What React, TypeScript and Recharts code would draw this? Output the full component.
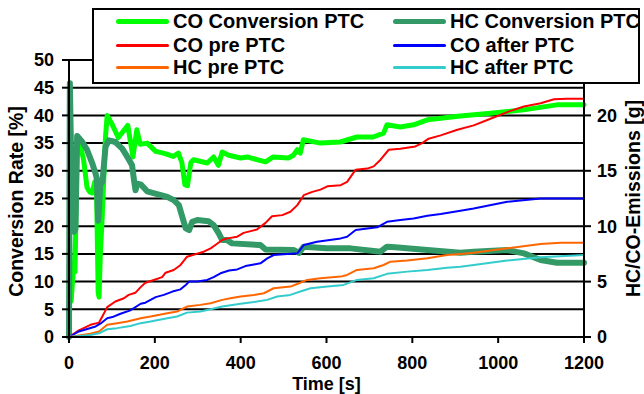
import React from 'react';
import { LineChart, Line, XAxis, YAxis, CartesianGrid, Legend } from 'recharts';

type Pt = [number, number];

// time [s] vs. conversion rate [%]
const coConversion: Pt[] = [
  [1, 19], [5, 6.5], [10, 12], [14, 11.8], [19, 35.5], [28, 34], [34, 32], [42, 27], [48, 26.2],
  [54, 26], [60, 28], [64, 27.5], [68, 8], [70, 7.2], [73, 15], [77, 21], [85, 36], [89, 40],
  [101, 38.3], [115, 36], [137, 38.2], [149, 32.5], [158, 37.4], [166, 34.8], [182, 35],
  [202, 33.5], [220, 33.2], [243, 32.6], [255, 33.2], [263, 31.5], [270, 27.5], [276, 27.3],
  [284, 31.5], [290, 32], [322, 31.4], [337, 32.5], [348, 31], [357, 33.4], [372, 32.8],
  [400, 32.3], [415, 32.5], [458, 31.6], [476, 32.5], [511, 32.3], [523, 32.8], [532, 33.8],
  [539, 33.2], [546, 35.6], [586, 35], [632, 35.2], [671, 36.1], [709, 36.1], [733, 36.8],
  [741, 38.3], [772, 37.9], [803, 38.3], [835, 39.2], [866, 39.5], [912, 39.9], [982, 40.4],
  [1059, 41], [1137, 41.9], [1200, 41.9],
];

const hcConversion: Pt[] = [
  [0, 0], [2, 45.8], [7, 23], [12, 19], [15, 19.5], [19, 36.3], [31, 35.2], [42, 33.8],
  [54, 31.4], [62, 29.5], [65, 28.5], [68, 21], [73, 27.5], [78, 28], [85, 34.3], [93, 35.5],
  [108, 35.2], [124, 34], [136, 32.5], [147, 31], [152, 28], [155, 26.5], [159, 27.7],
  [168, 27.5], [182, 26.3], [229, 25.3], [244, 24.7], [256, 23.8], [264, 21.7], [272, 19.6],
  [280, 19.3], [287, 20.8], [299, 21.1], [325, 20.9], [337, 20.2], [349, 18.7], [357, 17.5],
  [368, 17.5], [380, 16.9], [446, 16.6], [458, 15.8], [524, 15.7], [536, 15.2], [547, 16.3],
  [600, 16], [656, 16], [726, 15.4], [741, 16.3], [760, 16.2], [835, 15.7], [912, 15.2],
  [943, 15.4], [1021, 15.7], [1060, 15.1], [1099, 13.9], [1137, 13.4], [1200, 13.4],
];

// time [s] vs. cumulative emissions [g]
const coPre: Pt[] = [
  [0, 0], [23, 0.6], [50, 1.1], [70, 1.3], [77, 1.8], [89, 2.7], [108, 3.2], [128, 3.5],
  [139, 3.8], [155, 4.0], [167, 4.5], [178, 4.9], [194, 5.1], [217, 5.4], [225, 5.8],
  [244, 6.05], [260, 6.5], [275, 7.25], [314, 7.7], [330, 8.0], [341, 8.3], [357, 8.75],
  [369, 8.9], [392, 9.05], [407, 9.4], [438, 9.7], [458, 10.3], [473, 10.9], [497, 11.0],
  [516, 11.3], [532, 11.9], [547, 12.8], [567, 13.1], [586, 13.3], [602, 13.6], [633, 13.7],
  [648, 14.0], [668, 15.1], [695, 15.2], [710, 15.4], [726, 16.0], [745, 16.9], [772, 17.0],
  [807, 17.2], [823, 17.5], [838, 17.9], [866, 18.2], [905, 18.7], [943, 19.1], [982, 19.7],
  [1021, 20.3], [1060, 20.8], [1099, 21.1], [1130, 21.45], [1160, 21.5], [1200, 21.5],
];

const coAfter: Pt[] = [
  [0, 0], [23, 0.5], [62, 0.95], [73, 1.2], [89, 1.7], [101, 1.8], [120, 2.1], [143, 2.4],
  [167, 3.0], [178, 3.1], [202, 3.6], [221, 3.8], [241, 4.1], [260, 4.3], [272, 4.7],
  [280, 5.0], [299, 5.0], [322, 5.15], [337, 5.4], [353, 5.75], [373, 6.0], [392, 6.1],
  [411, 6.4], [431, 6.55], [446, 6.65], [462, 7.1], [477, 7.4], [532, 7.55], [547, 8.3],
  [578, 8.6], [633, 8.9], [648, 9.05], [668, 9.65], [718, 9.9], [741, 10.4], [772, 10.55],
  [803, 10.7], [835, 10.95], [866, 11.1], [912, 11.4], [943, 11.6], [1021, 12.2],
  [1099, 12.5], [1200, 12.5],
];

const hcPre: Pt[] = [
  [0, 0], [50, 0.3], [70, 0.5], [89, 1.1], [112, 1.25], [136, 1.4], [167, 1.7], [190, 1.85],
  [229, 2.15], [252, 2.3], [275, 2.75], [306, 2.9], [330, 3.05], [357, 3.35], [376, 3.5],
  [400, 3.65], [431, 3.8], [454, 3.95], [477, 4.4], [516, 4.55], [536, 4.85], [555, 5.15],
  [586, 5.3], [633, 5.45], [648, 5.6], [671, 6.05], [710, 6.2], [733, 6.5], [749, 6.8],
  [788, 6.9], [835, 7.1], [881, 7.4], [912, 7.5], [943, 7.6], [1021, 8.0], [1099, 8.4],
  [1145, 8.5], [1200, 8.5],
];

const hcAfter: Pt[] = [
  [0, 0], [50, 0.18], [70, 0.33], [89, 0.7], [112, 0.8], [143, 1.0], [167, 1.25], [190, 1.4],
  [229, 1.7], [252, 1.85], [275, 2.2], [306, 2.3], [330, 2.5], [357, 2.75], [400, 3.0],
  [438, 3.2], [462, 3.35], [485, 3.65], [516, 3.8], [539, 4.1], [563, 4.4], [602, 4.55],
  [640, 4.7], [671, 5.15], [710, 5.3], [741, 5.7], [788, 5.9], [835, 6.05], [881, 6.25],
  [912, 6.35], [943, 6.5], [1021, 6.9], [1099, 7.2], [1200, 7.4],
];

const timeTicks = [0, 200, 400, 600, 800, 1000, 1200];
const rateTicks = [0, 5, 10, 15, 20, 25, 30, 35, 40, 45, 50];
const massTicks = [0, 5, 10, 15, 20, 25];

const FONT = '"Liberation Sans", Arial, Helvetica, sans-serif';

const series = [
  { name: 'CO Conversion PTC', pts: coConversion, axis: 'rate', color: '#00FF00', width: 5 },
  { name: 'HC Conversion PTC', pts: hcConversion, axis: 'rate', color: '#339966', width: 6 },
  { name: 'CO pre PTC', pts: coPre, axis: 'mass', color: '#FF0000', width: 2 },
  { name: 'CO after PTC', pts: coAfter, axis: 'mass', color: '#0000FF', width: 2 },
  { name: 'HC pre PTC', pts: hcPre, axis: 'mass', color: '#FF6600', width: 2 },
  { name: 'HC after PTC', pts: hcAfter, axis: 'mass', color: '#33CCCC', width: 2 },
];

const tickStyle = { fill: '#000', fontSize: 18, fontWeight: 'bold', fontFamily: FONT };
const axisStroke = { stroke: '#000', strokeWidth: 2 };
const yTitleStyle = { fill: '#000', fontSize: 19.5, fontWeight: 'bold', fontFamily: FONT };
const xTitleStyle = { fill: '#000', fontSize: 18, fontWeight: 'bold', fontFamily: FONT };

const rowTops = [0, 24, 46];

// two-column legend box drawn over the top of the plot
const LegendBox = () => (
  <div
    style={{
      position: 'relative',
      boxSizing: 'border-box',
      width: 548,
      height: 76,
      border: '2px solid #000',
      background: '#fff',
      fontFamily: FONT,
      fontWeight: 'bold',
      fontSize: 20,
      color: '#000',
    }}
  >
    {series.map((s, i) => (
      <div
        key={s.name}
        style={{
          position: 'absolute',
          left: i % 2 === 0 ? 22 : 299,
          top: rowTops[Math.floor(i / 2)],
          height: 22,
          display: 'flex',
          alignItems: 'center',
          whiteSpace: 'nowrap',
        }}
      >
        <span
          style={{
            display: 'inline-block',
            width: 53,
            height: s.width > 2 ? 5 : 3,
            background: s.color,
            borderRadius: 3,
            marginRight: 4,
          }}
        />
        <span style={{ lineHeight: '22px' }}>{s.name}</span>
      </div>
    ))}
  </div>
);

export default function App() {
  return (
    <div style={{ position: 'absolute', left: 0, top: 0, width: 644, height: 394, background: '#fff' }}>
      <LineChart width={644} height={394} margin={{ top: 60, right: 0, bottom: 12, left: 9 }}>
        <CartesianGrid yAxisId="rate" vertical={false} stroke="#000" strokeWidth={2} />
        <XAxis
          type="number"
          dataKey="t"
          domain={[0, 1200]}
          ticks={timeTicks}
          interval={0}
          height={45}
          axisLine={axisStroke}
          tickLine={axisStroke}
          tickSize={6}
          tickMargin={13}
          tick={tickStyle}
          label={{ value: 'Time [s]', position: 'bottom', offset: -5, style: xTitleStyle }}
        />
        <YAxis
          yAxisId="rate"
          domain={[0, 50]}
          ticks={rateTicks}
          interval={0}
          width={60}
          axisLine={axisStroke}
          tickLine={axisStroke}
          tickSize={7}
          tickMargin={8}
          tick={tickStyle}
          label={{ value: 'Conversion Rate [%]', angle: -90, position: 'center', dx: -23, dy: 3, style: yTitleStyle }}
        />
        <YAxis
          yAxisId="mass"
          orientation="right"
          domain={[0, 25]}
          ticks={massTicks}
          interval={0}
          width={60}
          axisLine={axisStroke}
          tickLine={axisStroke}
          tickSize={7}
          tickMargin={6}
          tick={tickStyle}
          label={{ value: 'HC/CO-Emissions [g]', angle: -90, position: 'center', dx: 19, style: yTitleStyle }}
        />
        {series.map((s) => (
          <Line
            key={s.name}
            yAxisId={s.axis}
            data={s.pts.map(([t, v]) => ({ t, v }))}
            dataKey="v"
            name={s.name}
            type="linear"
            stroke={s.color}
            strokeWidth={s.width}
            strokeLinejoin="round"
            strokeLinecap="round"
            dot={false}
            activeDot={false}
            isAnimationActive={false}
          />
        ))}
        <Legend
          layout="horizontal"
          verticalAlign="middle"
          align="center"
          content={<LegendBox />}
          wrapperStyle={{ left: 92, top: 8, width: 548, height: 76 }}
        />
      </LineChart>
    </div>
  );
}
